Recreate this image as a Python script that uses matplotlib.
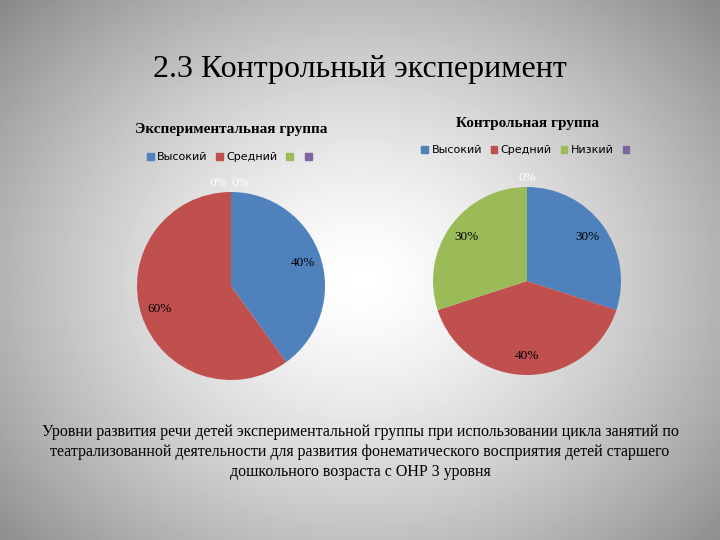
import numpy as np
import matplotlib
matplotlib.use("Agg")
import matplotlib.pyplot as plt
from matplotlib.patches import Patch

exp_categories = ["Высокий", "Средний", "", ""]
ctl_categories = ["Высокий", "Средний", "Низкий", ""]
exp_values = [40, 60, 0, 0]
ctl_values = [30, 40, 30, 0]
colors = ["#4f81bd", "#c0504d", "#9bbb59", "#8064a2"]

fig = plt.figure(figsize=(7.2, 5.4), dpi=100)
bg = fig.add_axes([0, 0, 1, 1]); bg.axis("off")
yy, xx = np.mgrid[0:540, 0:720]
d = np.sqrt(((xx - 360) / 480) ** 2 + ((yy - 280) / 400) ** 2)
v = np.clip(1 - 0.45 * d ** 1.4, 0.5, 1)
bg.imshow(v, cmap="gray", vmin=0, vmax=1, extent=[0, 1, 0, 1], aspect="auto")

fig.text(0.5, 1 - 70/540, "2.3 Контрольный эксперимент", ha="center", va="center",
         family="Liberation Serif", fontsize=23)

def draw(cx, cy, r, vals, cats, title, ty, ly, zero_pos):
    w, h = 2*r/720, 2*r/540
    ax = fig.add_axes([cx/720 - w/2, 1 - cy/540 - h/2, w, h])
    wedges, texts, autot = ax.pie(vals, colors=colors, startangle=90, counterclock=False,
                                  autopct="%d%%", pctdistance=0.8,
                                  textprops=dict(family="Liberation Serif", fontsize=9.5))
    zi = 0
    for val, t in zip(vals, autot):
        if val == 0:
            if zi < len(zero_pos):
                t.set_position(zero_pos[zi]); t.set_color("white"); zi += 1
            else:
                t.set_visible(False)
    ax.set_xlim(-1, 1); ax.set_ylim(-1, 1)
    fig.text(cx/720, 1 - ty/540, title, ha="center", va="center",
             family="Liberation Serif", fontsize=11, fontweight="bold")
    handles = [Patch(color=colors[i], label=cats[i]) for i in range(len(cats))]
    fig.legend(handles=handles, loc="center", bbox_to_anchor=(cx/720, 1 - ly/540),
               ncol=len(cats), frameon=False, fontsize=8, handlelength=0.6, handleheight=0.6,
               columnspacing=0.8, handletextpad=0.3)

draw(231, 286, 94, exp_values, exp_categories, "Экспериментальная группа", 130, 157,
     [(-0.13, 1.1), (0.1, 1.1)])
draw(527, 281, 94, ctl_values, ctl_categories, "Контрольная группа", 124, 150, [(0, 1.1)])

fig.text(0.5, 1 - 452/540,
         "Уровни развития речи детей экспериментальной группы при использовании цикла занятий по\n"
         "театрализованной деятельности для развития фонематического восприятия детей старшего\n"
         "дошкольного возраста с ОНР 3 уровня",
         ha="center", va="center", family="Liberation Serif", fontsize=11.5, linespacing=1.35)

fig.savefig("out.png", dpi=100)
